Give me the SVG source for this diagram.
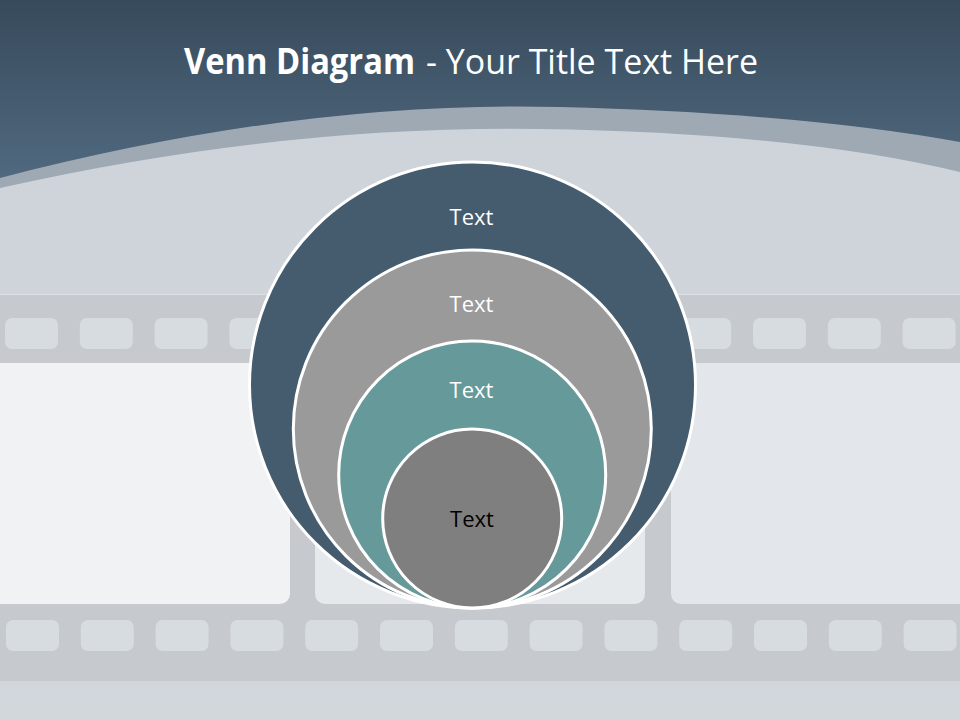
<svg xmlns="http://www.w3.org/2000/svg" width="960" height="720" viewBox="0 0 960 720">
  <defs>
    <linearGradient id="hdr" x1="0" y1="0" x2="0" y2="1">
      <stop offset="0" stop-color="#374a5b"/>
      <stop offset="1" stop-color="#50697f"/>
    </linearGradient>
    <linearGradient id="bg" x1="0" y1="0" x2="0" y2="1">
      <stop offset="0" stop-color="#cdd3da"/>
      <stop offset="1" stop-color="#d2d7dc"/>
    </linearGradient>
    <style>
      .perf { fill: #d7dce1; }
      .band { fill: #c6c9cd; }
      .ring { stroke: #ffffff; stroke-width: 3; }
      .lbl { font-family: "Open Sans", "Noto Sans", "Liberation Sans", sans-serif; font-size: 22px; text-anchor: middle; }
      .title { font-family: "Open Sans", "Noto Sans", "Liberation Sans", sans-serif; font-size: 35px; fill: #ffffff; }
    </style>
  </defs>

  <!-- background -->
  <rect x="0" y="0" width="960" height="720" fill="url(#bg)"/>

  <!-- film strip -->
  <g id="filmstrip">
    <rect x="0" y="294" width="960" height="387" class="band"/>
    <rect x="0" y="294" width="960" height="1" fill="#dde1e5"/>
    <rect x="-12" y="363" width="302" height="241" rx="10" fill="#f0f2f4"/>
    <rect x="315" y="363" width="330" height="241" rx="10" fill="#e6e9ec"/>
    <rect x="671" y="363" width="301" height="241" rx="10" fill="#e3e7eb"/>
    <g id="perf-top">
      <rect class="perf" x="5" y="318" width="53" height="31" rx="7"/>
      <rect class="perf" x="79.8" y="318" width="53" height="31" rx="7"/>
      <rect class="perf" x="154.6" y="318" width="53" height="31" rx="7"/>
      <rect class="perf" x="229.4" y="318" width="53" height="31" rx="7"/>
      <rect class="perf" x="304.2" y="318" width="53" height="31" rx="7"/>
      <rect class="perf" x="379" y="318" width="53" height="31" rx="7"/>
      <rect class="perf" x="453.8" y="318" width="53" height="31" rx="7"/>
      <rect class="perf" x="528.6" y="318" width="53" height="31" rx="7"/>
      <rect class="perf" x="603.4" y="318" width="53" height="31" rx="7"/>
      <rect class="perf" x="678.2" y="318" width="53" height="31" rx="7"/>
      <rect class="perf" x="753" y="318" width="53" height="31" rx="7"/>
      <rect class="perf" x="827.8" y="318" width="53" height="31" rx="7"/>
      <rect class="perf" x="902.6" y="318" width="53" height="31" rx="7"/>
    </g>
    <g id="perf-bottom">
      <rect class="perf" x="6" y="620" width="53" height="31" rx="7"/>
      <rect class="perf" x="80.8" y="620" width="53" height="31" rx="7"/>
      <rect class="perf" x="155.6" y="620" width="53" height="31" rx="7"/>
      <rect class="perf" x="230.4" y="620" width="53" height="31" rx="7"/>
      <rect class="perf" x="305.2" y="620" width="53" height="31" rx="7"/>
      <rect class="perf" x="380" y="620" width="53" height="31" rx="7"/>
      <rect class="perf" x="454.8" y="620" width="53" height="31" rx="7"/>
      <rect class="perf" x="529.6" y="620" width="53" height="31" rx="7"/>
      <rect class="perf" x="604.4" y="620" width="53" height="31" rx="7"/>
      <rect class="perf" x="679.2" y="620" width="53" height="31" rx="7"/>
      <rect class="perf" x="754" y="620" width="53" height="31" rx="7"/>
      <rect class="perf" x="828.8" y="620" width="53" height="31" rx="7"/>
      <rect class="perf" x="903.6" y="620" width="53" height="31" rx="7"/>
    </g>
  </g>

  <!-- header -->
  <g id="header">
    <path d="M0,0 H960 V172 Q800,133 540,129 Q280,125 0,188 Z" fill="#9fa9b3"/>
    <path d="M0,0 H960 V142 Q800,113 560,107 Q300,100 0,178 Z" fill="url(#hdr)"/>
    <text class="title" x="184" y="74" font-weight="bold" textLength="231" lengthAdjust="spacingAndGlyphs">Venn Diagram</text>
    <text class="title" x="426" y="74" textLength="332" lengthAdjust="spacingAndGlyphs">- Your Title Text Here</text>
  </g>

  <g id="connectors"/>

  <!-- nested circles -->
  <g id="circle-1">
    <circle class="ring" cx="472.5" cy="385" r="223" fill="#455b6e"/>
    <text class="lbl" x="471.5" y="225" fill="#ffffff">Text</text>
  </g>
  <g id="circle-2">
    <circle class="ring" cx="472.3" cy="429" r="179" fill="#9a9a9a"/>
    <text class="lbl" x="471.5" y="312" fill="#ffffff">Text</text>
  </g>
  <g id="circle-3">
    <circle class="ring" cx="472.2" cy="474.5" r="133.5" fill="#66999a"/>
    <text class="lbl" x="471.5" y="397.5" fill="#ffffff">Text</text>
  </g>
  <g id="circle-4">
    <circle class="ring" cx="472.2" cy="518.5" r="89.5" fill="#7f7f7f"/>
    <text class="lbl" x="472" y="527" fill="#000000">Text</text>
  </g>
</svg>
